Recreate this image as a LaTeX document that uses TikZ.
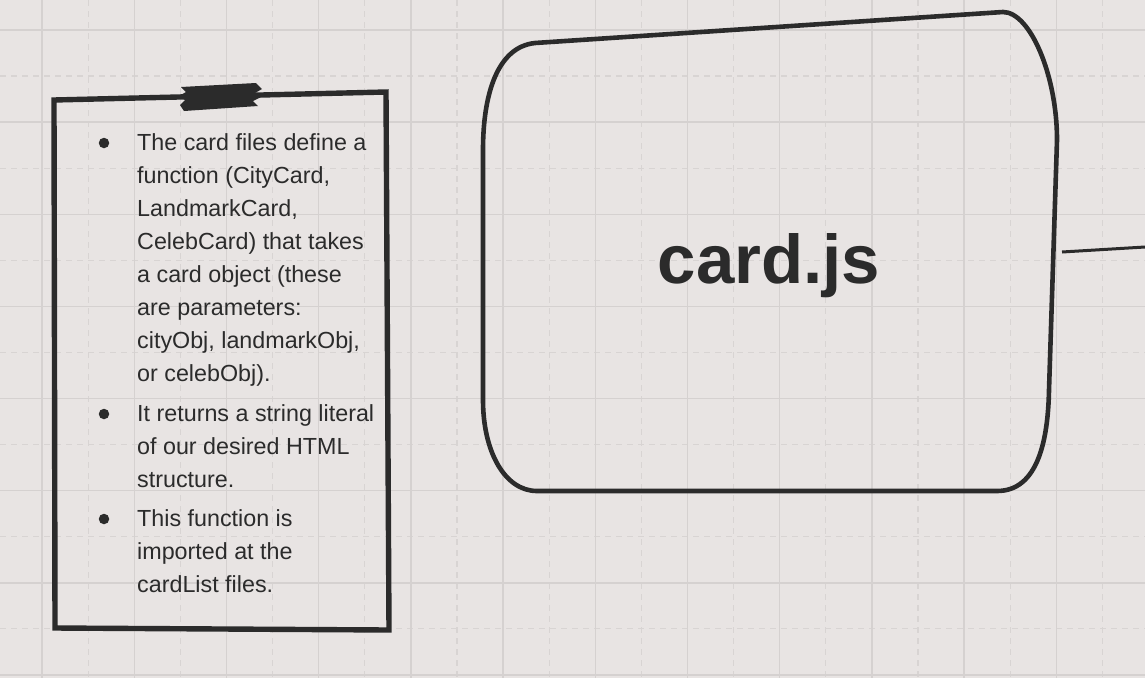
\documentclass[tikz,border=0pt]{standalone}
\usepackage{fontspec}
\setmainfont{Liberation Sans}
\definecolor{bg}{RGB}{232,228,227}
\definecolor{gsolid}{RGB}{213,209,208}
\definecolor{gdash}{RGB}{216,212,211}
\definecolor{ink}{RGB}{43,43,43}
\tikzset{
  gridsolid/.style={draw=gsolid, line width=1.4pt},
  griddash/.style={draw=gdash, line width=1.2pt, dash pattern=on 6pt off 5pt},
  outline/.style={draw=ink, line width=4.6pt, line join=round},
  noteline/.style={anchor=base west, inner sep=0pt, text=ink, font=\fontsize{23.3}{28}\selectfont},
  bulletdot/.style={circle, fill=ink, inner sep=0pt, minimum size=10.5pt},
}
\begin{document}
\begin{tikzpicture}[x=1pt,y=-1pt]
\useasboundingbox (0,0) rectangle (1145,678);
\fill[bg] (0,0) rectangle (1145,678);
% grid
\foreach \i in {0,...,11} {
  \draw[griddash] ({88.1+92.2*\i},0) -- ({88.1+92.2*\i},678);
}
\foreach \i in {0,...,6} {
  \draw[griddash] (0,{76+92.14*\i}) -- (1145,{76+92.14*\i});
}
\foreach \i in {0,...,11} {
  \draw[gridsolid] ({42+92.2*\i},0) -- ({42+92.2*\i},678);
}
\foreach \i in {0,...,7} {
  \draw[gridsolid] (0,{30+92.14*\i}) -- (1145,{30+92.14*\i});
}
% note box
\draw[outline, line width=5.4pt, line join=miter] (54,100) -- (386,92) -- (389,630) -- (55,628) -- cycle;
% tape
\fill[ink] (181,87) -- (186,92) -- (179,96) -- (185,100) -- (180,105) -- (184,111)
  -- (258,106) -- (253,101) -- (261,97) -- (255,93) -- (262,89) -- (256,83) -- cycle;
% bullets
\node[bulletdot] (b1) at (104,143) {};
\node[bulletdot] (b2) at (104,414) {};
\node[bulletdot] (b3) at (104,519) {};
% text lines
\node[noteline] (l1) at (137,150) {The card files define a};
\node[noteline] (l2) at (137,183) {function (CityCard,};
\node[noteline] (l3) at (137,216) {LandmarkCard,};
\node[noteline] (l4) at (137,249) {CelebCard) that takes};
\node[noteline] (l5) at (137,282) {a card object (these};
\node[noteline] (l6) at (137,315) {are parameters:};
\node[noteline] (l7) at (137,348) {cityObj, landmarkObj,};
\node[noteline] (l8) at (137,381) {or celebObj).};
\node[noteline] (l9) at (137,421) {It returns a string literal};
\node[noteline] (l10) at (137,454) {of our desired HTML};
\node[noteline] (l11) at (137,487) {structure.};
\node[noteline] (l12) at (137,526) {This function is};
\node[noteline] (l13) at (137,559) {imported at the};
\node[noteline] (l14) at (137,592) {cardList files.};
% big box
\draw[outline] (537,491) -- (997,491)
  .. controls (1038,491) and (1048,440) .. (1049,390)
  -- (1057,140)
  .. controls (1057,75) and (1030,12) .. (1003,12)
  -- (535,43)
  .. controls (497,47) and (483,95) .. (483,150)
  -- (483,400)
  .. controls (483,452) and (505,491) .. (537,491) -- cycle;
\node[anchor=base, inner sep=0pt, text=ink, font=\fontsize{69}{80}\selectfont\bfseries] (cardjs) at (769,283) {card.js};
% connector
\coordinate (boxE) at (1062,252);
\coordinate (farE) at (1145,247);
\draw[draw=ink, line width=3pt] (boxE) -- (farE);
\end{tikzpicture}
\end{document}
